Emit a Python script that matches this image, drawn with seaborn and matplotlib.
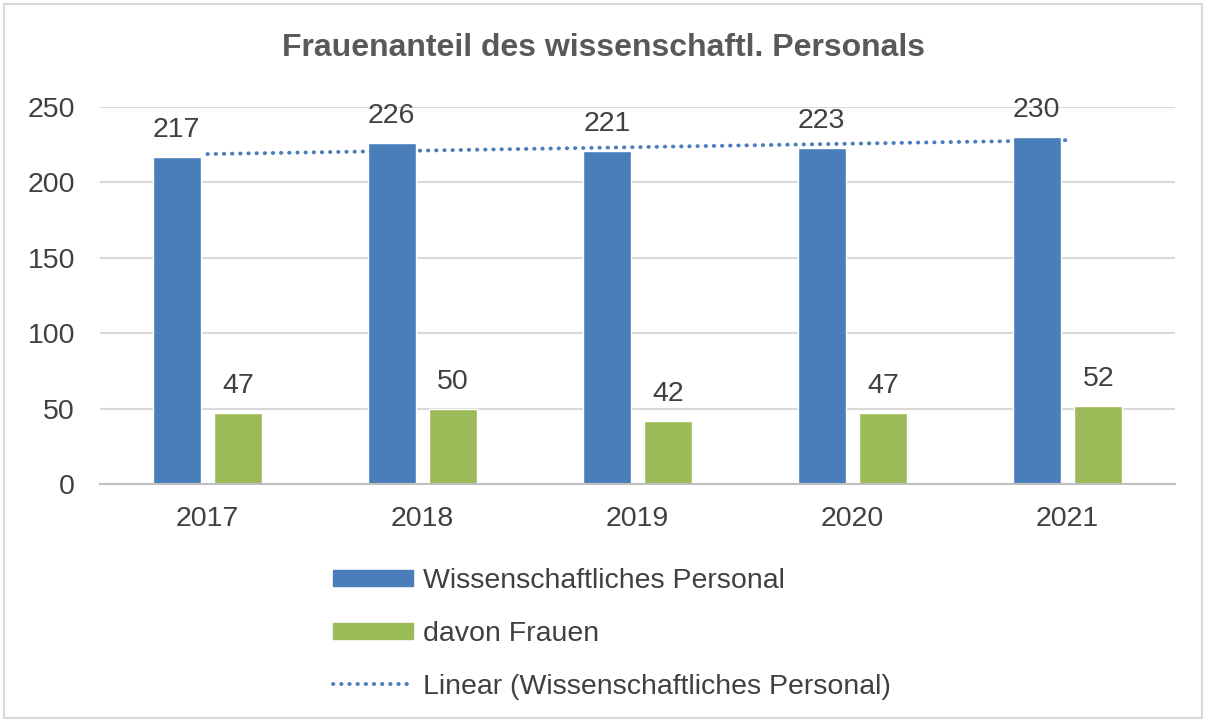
import numpy as np
import pandas as pd
import matplotlib
matplotlib.use("Agg")
import matplotlib.pyplot as plt
import seaborn as sns
from matplotlib.patches import Patch, Rectangle
from matplotlib.lines import Line2D

years = ["2017", "2018", "2019", "2020", "2021"]
personal = [217, 226, 221, 223, 230]
frauen = [47, 50, 42, 47, 52]
series_names = ["Wissenschaftliches Personal", "davon Frauen"]
trend_label = "Linear (Wissenschaftliches Personal)"
title = "Frauenanteil des wissenschaftl. Personals"

blue = "#4A7EBB"
green = "#9BBB59"
text_c = "#404040"
fs = 20.5

sns.set_theme(style="white")
plt.rcParams["font.family"] = ["Liberation Sans", "DejaVu Sans"]

df = pd.DataFrame({
    "Jahr": years * 2,
    "Wert": personal + frauen,
    "Serie": [series_names[0]] * len(years) + [series_names[1]] * len(years),
})

fig = plt.figure(figsize=(12.08, 7.22), dpi=100)
ax = fig.add_axes([100 / 1208, 1 - 484 / 722, 1075 / 1208, 377 / 722])

sns.barplot(data=df, x="Jahr", y="Wert", hue="Serie", order=years,
            hue_order=series_names, palette=[blue, green],
            width=0.572, gap=0.22, ax=ax, legend=False, errorbar=None,
            saturation=1)

for cont in ax.containers:
    ax.bar_label(cont, padding=10, fontsize=fs, color=text_c)

# linear trendline
xs = np.arange(len(years))
m, b = np.polyfit(xs, personal, 1)
ax.plot(xs, m * xs + b, color=blue, lw=2.8, linestyle=(0, (0.1, 2.0)),
        dash_capstyle="round")

ax.set_xlim(-0.5, len(years) - 0.5)
ax.set_ylim(0, 250)
ax.set_yticks(range(0, 251, 50))
ax.yaxis.grid(True, color="#D9D9D9", lw=1.5)
ax.set_axisbelow(True)
for s in ["top", "right", "left"]:
    ax.spines[s].set_visible(False)
ax.spines["bottom"].set_color("#BFBFBF")
ax.spines["bottom"].set_linewidth(1.5)
ax.set_xlabel("")
ax.set_ylabel("")
ax.tick_params(axis="both", labelsize=fs, labelcolor=text_c, length=0)
ax.tick_params(axis="x", pad=16)
ax.tick_params(axis="y", pad=18)

fig.text(0.5, 1 - 48 / 722, title, ha="center", va="center",
         fontsize=23, fontweight="bold", color="#595959")

handles = [Patch(facecolor=blue, edgecolor=blue),
           Patch(facecolor=green, edgecolor=green),
           Line2D([0], [0], color=blue, lw=2.8, linestyle=(0, (0.1, 2.0)),
                  dash_capstyle="round")]
leg = fig.legend(handles, series_names + [trend_label], loc="upper left",
                 bbox_to_anchor=(333 / 1208, 1 - 568 / 722), frameon=False,
                 borderpad=0, borderaxespad=0,
                 fontsize=fs, handlelength=2.8, handleheight=0.5,
                 labelspacing=0.94, handletextpad=0.35, labelcolor=text_c)

fig.patches.append(Rectangle((4 / 1208, 4 / 722), 1198 / 1208, 714 / 722,
                             transform=fig.transFigure, fill=False,
                             edgecolor="#D9D9D9", lw=1.5))

fig.savefig("out.png", dpi=100)
